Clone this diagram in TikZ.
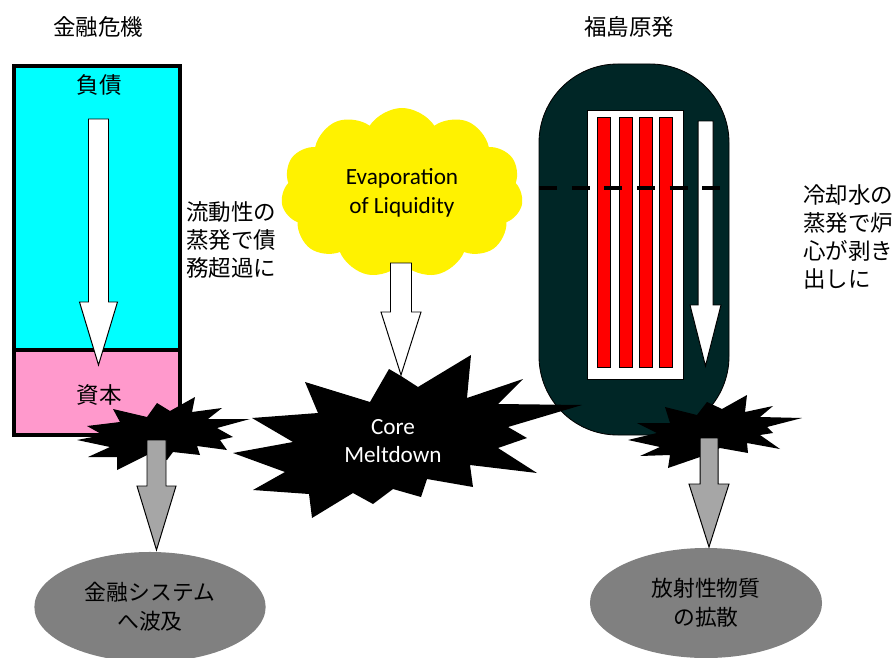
\documentclass[tikz,border=0pt]{standalone}
\usepackage{fontspec}
\setmainfont{Carlito}
\newfontfamily\jp{Noto Sans CJK JP}
\usetikzlibrary{shapes.geometric,shapes.symbols}

\definecolor{liab}{RGB}{0,255,255}
\definecolor{equity}{RGB}{255,153,204}
\definecolor{vessel}{RGB}{0,38,38}
\definecolor{fallout}{RGB}{166,166,166}
\definecolor{impact}{RGB}{128,128,128}

% vertical block arrow: x, top, tip, head start, half shaft, half head, fill
\newcommand{\blockdown}[7]{%
  \filldraw[fill=#7,draw=black,line width=0.7pt,line join=miter]
    (#1-#5,#2) -- (#1+#5,#2) -- (#1+#5,#4) -- (#1+#6,#4) -- (#1,#3)
    -- (#1-#6,#4) -- (#1-#5,#4) -- cycle;}

\begin{document}
\begin{tikzpicture}[x=0.025cm,y=-0.025cm,
  jtxt/.style={font=\jp\fontsize{16}{19.8}\selectfont,inner sep=0pt},
  etxt/.style={font=\fontsize{16.5}{20.5}\selectfont,align=center,inner sep=0pt},
  result/.style={ellipse,fill=impact,draw=none,align=center,
                 font=\jp\fontsize{15.5}{20.5}\selectfont}]
\useasboundingbox (0,0) rectangle (893,657);

% titles
\node[jtxt] (lefttitle) at (98,27) {金融危機};
\node[jtxt] (righttitle) at (629,27) {福島原発};

% balance sheet
\fill[liab] (14,66) rectangle (180,350);
\fill[equity] (14,350) rectangle (180,435);
\draw[line width=2.3pt] (14,66) rectangle (180,435);
\draw[line width=2.3pt] (14,350) -- (180,350);
\node[jtxt] (debt) at (99,85) {負債};
\node[jtxt] (capital) at (99,395) {資本};
\blockdown{98.5}{119}{365}{302}{10}{19}{white}
\node[jtxt,anchor=west,align=left] (leftnote) at (186,240)
  {流動性の\\蒸発で債\\務超過に};

% evaporation cloud
\node[cloud,cloud puffs=11,cloud puff arc=115,aspect=1.45,fill=yellow,
  minimum width=6.05cm,minimum height=4.25cm,etxt] (evap) at (402,193)
  {Evaporation\\of Liquidity};

% reactor vessel
\filldraw[fill=vessel,draw=black,line width=0.6pt,rounded corners=56pt]
  (539,64) rectangle (729,435);
\filldraw[fill=white,draw=black,line width=0.6pt] (587,110) rectangle (683,379);
\foreach \rx in {597,619,639,659}
  \filldraw[fill=red,draw=black,line width=0.6pt] (\rx,117) rectangle (\rx+13.5,367);
\blockdown{705.5}{121}{366}{305}{7.5}{15.5}{white}
\draw[line width=2.8pt,dash pattern=on 12.8pt off 10.4pt] (539,188) -- (727,188);
\node[jtxt,anchor=west,align=left] (rightnote) at (803,237)
  {冷却水の\\蒸発で炉\\心が剥き\\出しに};

% explosions
\fill (113,409) -- (147,417) -- (157,403) -- (170,411) -- (195,397) -- (192,412)
  -- (222,408) -- (208,419) -- (250,419) -- (217,428) -- (233,437) -- (220,440)
  -- (227,450) -- (197,446) -- (200,455) -- (173,452) -- (167,460) -- (147,455)
  -- (117,470) -- (117,457) -- (88,457) -- (110,447) -- (77,440) -- (103,435)
  -- (87,426) -- (120,422) -- cycle;
\fill (252,418) -- (318,413) -- (305,382) -- (370,402) -- (389,369) -- (401,376)
  -- (418,387) -- (471,355) -- (467,398) -- (523,379) -- (498,404) -- (582,405)
  -- (508,427) -- (527,438) -- (498,448) -- (537,473) -- (470,465) -- (473,487)
  -- (427,479) -- (421,497) -- (393,489) -- (373,504) -- (353,493) -- (312,518)
  -- (309,494) -- (253,490) -- (285,472) -- (233,453) -- (293,442) -- cycle;
\fill (665,407) -- (697,415) -- (707,402) -- (722,409) -- (747,395) -- (745,412)
  -- (773,406) -- (760,417) -- (802,418) -- (767,427) -- (773,433) -- (760,435)
  -- (780,449) -- (747,443) -- (748,453) -- (720,448) -- (700,457) -- (668,468)
  -- (670,455) -- (640,456) -- (660,447) -- (628,440) -- (657,433) -- (637,423)
  -- (670,423) -- cycle;
\node[etxt,text=white] (core) at (393,441) {Core\\Meltdown};

\blockdown{401}{263}{375}{312}{10.5}{20}{white}

% consequences
\node[result,minimum width=5.78cm,minimum height=2.75cm] (spread) at (150,607)
  {金融システム\\へ波及};
\node[result,minimum width=5.8cm,minimum height=2.75cm] (release) at (706,603)
  {放射性物質\\の拡散};
\blockdown{156.5}{440}{550}{486}{9.5}{19.5}{fallout}
\blockdown{709}{438}{547}{484}{9}{20}{fallout}
\end{tikzpicture}
\end{document}
